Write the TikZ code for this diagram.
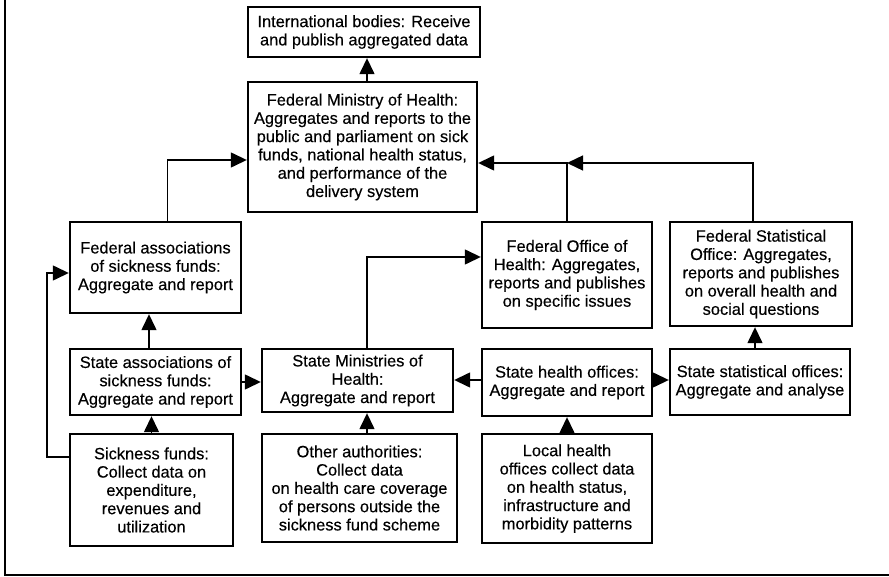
\documentclass[tikz,border=0pt]{standalone}
\usepackage{fontspec}
\setmainfont{Liberation Sans}
\newfontfamily\boxfont{Liberation Sans}[FakeBold=0.35]
\usetikzlibrary{arrows.meta}
\begin{document}
\begin{tikzpicture}[x=1pt,y=-1pt,
  box/.style={draw, line width=2.4pt, align=center, inner sep=0pt,
    font=\boxfont\fontsize{16.4}{18.3}\selectfont},
  arr/.style={line width=1.4pt, -{Triangle[length=16pt,width=15pt]}}]
\useasboundingbox (0,0) rectangle (889,577);
% page frame (left and bottom edges)
\draw[line width=2.2pt] (5,0) -- (5,575) -- (889,575);

% federal level
\node[box, minimum width=232, minimum height=50] (intl) at (364,32)
  {International bodies: Receive\\and publish aggregated data};
\node[box, minimum width=229, minimum height=130] (fmh) at (362.5,147)
  {Federal Ministry of Health:\\Aggregates and reports to the\\public and parliament on sick\\funds, national health status,\\and performance of the\\delivery system};
\node[box, minimum width=171, minimum height=91] (fas) at (155.5,267.5)
  {Federal associations\\of sickness funds:\\Aggregate and report};
\node[box, minimum width=170, minimum height=106] (foh) at (567,275)
  {Federal Office of\\Health: Aggregates,\\reports and publishes\\on specific issues};
\node[box, minimum width=182, minimum height=104] (fso) at (761,274)
  {Federal Statistical\\Office: Aggregates,\\reports and publishes\\on overall health and\\social questions};

% state level
\node[box, minimum width=171, minimum height=66] (sas) at (155.5,382)
  {State associations of\\sickness funds:\\Aggregate and report};
\node[box, minimum width=191, minimum height=63] (smh) at (357.5,380.5)
  {State Ministries of\\Health:\\Aggregate and report};
\node[box, minimum width=170, minimum height=67] (sho) at (567,382.5)
  {State health offices:\\Aggregate and report};
\node[box, minimum width=180, minimum height=66] (sso) at (760,382)
  {State statistical offices:\\Aggregate and analyse};

% local level
\node[box, minimum width=163, minimum height=112] (sf) at (151.5,490)
  {Sickness funds:\\Collect data on\\expenditure,\\revenues and\\utilization};
\node[box, minimum width=195, minimum height=108] (oa) at (359.5,488)
  {Other authorities:\\Collect data\\on health care coverage\\of persons outside the\\sickness fund scheme};
\node[box, minimum width=170, minimum height=109] (lho) at (567,488.5)
  {Local health\\offices collect data\\on health status,\\infrastructure and\\morbidity patterns};

% reporting lines
\draw[arr] ([xshift=4.5]fmh.north) -- ([xshift=4.5]fmh.north |- intl.south);
\draw[arr] ([xshift=12]fas.north) |- ([yshift=-13]fmh.west);
\coordinate (j) at (foh.north |- 0,163);
\draw[arr] (foh.north) |- ([yshift=-16]fmh.east);
\draw[arr] ([xshift=-8]fso.north) |- (j);
\draw[arr] ([xshift=9.5]smh.north) |- ([yshift=18]foh.west);
\draw[arr] ([xshift=-6.5]sas.north) -- ([xshift=-6.5]sas.north |- fas.south);
\draw[arr] (sf.north) -- (sf.north |- sas.south);
\draw[arr] (sas.east) -- (sas.east -| smh.west);
\draw[arr] ([xshift=7.5]oa.north) -- ([xshift=7.5]oa.north |- smh.south);
\draw[arr] ([yshift=2.5]sho.west) -- ([yshift=2.5]sho.west -| smh.east);
\draw[arr] ([yshift=2.5]sho.east) -- ([yshift=2.5]sho.east -| sso.west);
\draw[arr] ([xshift=-5]sso.north) -- ([xshift=-5]sso.north |- fso.south);
\draw[arr] (lho.north) -- (lho.north |- sho.south);
\draw[arr] ([yshift=33]sf.west) -- ++(-22,0) |- ([yshift=-5.5]fas.west);
\end{tikzpicture}
\end{document}
